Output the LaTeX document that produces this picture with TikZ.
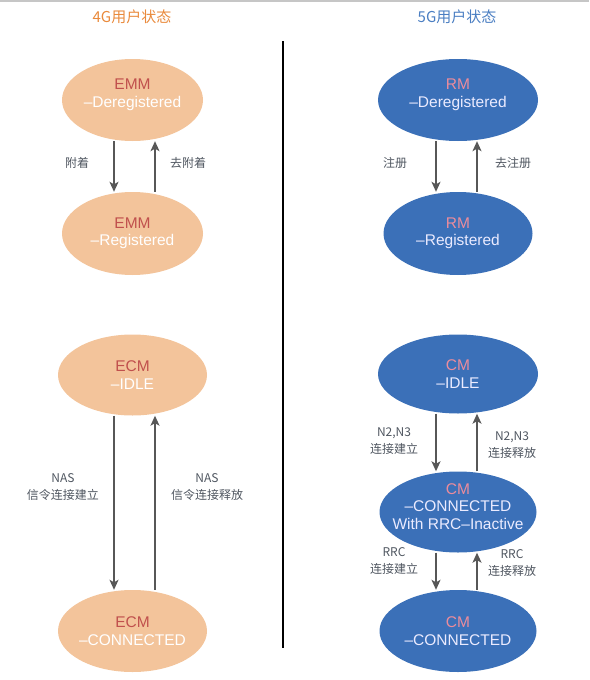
\documentclass[tikz,border=0pt]{standalone}
\usepackage{fontspec}
\setmainfont{Liberation Sans}
\newfontfamily\cjk{Noto Sans CJK SC}
\usetikzlibrary{shapes.geometric,arrows.meta}
\definecolor{ltefill}{HTML}{F3C49B}
\definecolor{ltename}{HTML}{C0504D}
\definecolor{nrfill}{HTML}{3B70B8}
\definecolor{nrname}{HTML}{EC8C9C}
\definecolor{lbltext}{HTML}{4F5660}
\definecolor{arrowgray}{HTML}{575757}
\definecolor{titlelte}{HTML}{E98A3C}
\definecolor{titlenr}{HTML}{4A7EC2}
\begin{document}
\begin{tikzpicture}
	[x=1pt,y=-1pt,
	 state/.style={ellipse,inner ysep=0pt,inner xsep=-25pt,align=center,text=white,
	   font=\fontsize{15.5}{17.5}\selectfont},
	 lte/.style={state,fill=ltefill},
	 nr/.style={state,fill=nrfill,text=white!92!blue},
	 raised/.style={text depth=#1},
	 lbl/.style={align=center,text=lbltext,font=\cjk\fontsize{12}{16.5}\selectfont},
	 flow/.style={draw=arrowgray,line width=1.5pt,-{Stealth[length=10pt,width=9pt,inset=2.5pt]}}]
    \useasboundingbox (0,0) rectangle (589,680);
    \draw[gray!45,line width=2pt] (0,1) -- (589,1);

    \node[text=titlelte,font=\cjk\fontsize{15}{18}\selectfont] (t4) at (132,17) {4G用户状态};
    \node[text=titlenr,font=\cjk\fontsize{15}{18}\selectfont] (t5) at (457,17) {5G用户状态};

    \draw[line width=1.4pt] (283,41) -- (283,648);

    % 4G
    \node[lte,raised=14pt,minimum width=141pt,minimum height=82pt] (emmd) at (132.5,100) {\textcolor{ltename}{EMM}\\–Deregistered};
    \node[lte,minimum width=141pt,minimum height=83pt] (emmr) at (132.5,233.5) {\textcolor{ltename}{EMM}\\–Registered};
    \node[lte,minimum width=149pt,minimum height=81pt] (ecmi) at (132.5,375) {\textcolor{ltename}{ECM}\\–IDLE};
    \node[lte,minimum width=149pt,minimum height=82pt] (ecmc) at (132.5,631) {\textcolor{ltename}{ECM}\\–CONNECTED};

    \draw[flow] ([xshift=-18.5pt]emmd.south) -- ([xshift=-18.5pt]emmr.north);
    \draw[flow] ([xshift=22.5pt]emmr.north) -- ([xshift=22.5pt]emmd.south);
    \draw[flow] ([xshift=-18.5pt]ecmi.south) -- ([xshift=-18.5pt]ecmc.north);
    \draw[flow] ([xshift=22.5pt]ecmc.north) -- ([xshift=22.5pt]ecmi.south);

    \node[lbl] (attach) at (77,163) {附着};
    \node[lbl] (detach) at (188,163) {去附着};
    \node[lbl] (nasup) at (63,487) {NAS\\信令连接建立};
    \node[lbl] (nasdown) at (207,487) {NAS\\信令连接释放};

    % 5G
    \node[nr,raised=14pt,minimum width=160pt,minimum height=82pt] (rmd) at (458,100) {\textcolor{nrname}{RM}\\–Deregistered};
    \node[nr,minimum width=149pt,minimum height=83pt] (rmr) at (458,233.5) {\textcolor{nrname}{RM}\\–Registered};
    \node[nr,minimum width=160pt,minimum height=79pt] (cmi) at (458,374) {\textcolor{nrname}{CM}\\–IDLE};
    \node[nr,raised=11pt,minimum width=157pt,minimum height=81pt] (cmin) at (458,512) {\textcolor{nrname}{CM}\\–CONNECTED\\With RRC–Inactive};
    \node[nr,minimum width=157pt,minimum height=82pt] (cmc) at (458,631) {\textcolor{nrname}{CM}\\–CONNECTED};

    \draw[flow] ([xshift=-22pt]rmd.south) -- ([xshift=-22pt]rmr.north);
    \draw[flow] ([xshift=19pt]rmr.north) -- ([xshift=19pt]rmd.south);
    \draw[flow] ([xshift=-22pt]cmi.south) -- ([xshift=-22pt]cmin.north);
    \draw[flow] ([xshift=19pt]cmin.north) -- ([xshift=19pt]cmi.south);
    \draw[flow] ([xshift=-22pt]cmin.south) -- ([xshift=-22pt]cmc.north);
    \draw[flow] ([xshift=19pt]cmc.north) -- ([xshift=19pt]cmin.south);

    \node[lbl] (reg) at (395,163) {注册};
    \node[lbl] (dereg) at (513,163) {去注册};
    \node[lbl] (nup) at (394,441) {N2,N3\\连接建立};
    \node[lbl] (ndown) at (512,445) {N2,N3\\连接释放};
    \node[lbl] (rrcup) at (394,561) {RRC\\连接建立};
    \node[lbl] (rrcdown) at (512,563) {RRC\\连接释放};

\end{tikzpicture}
\end{document}
